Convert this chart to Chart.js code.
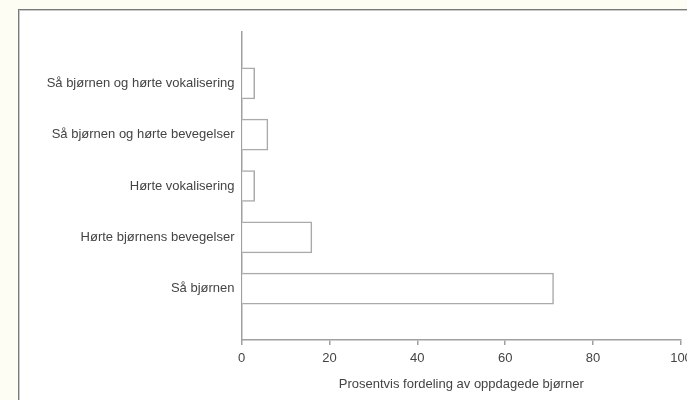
<!DOCTYPE html>
<html>
<head>
<meta charset="utf-8">
<script src="https://cdn.jsdelivr.net/npm/chart.js@4.4.1/dist/chart.umd.min.js"></script>
<style>
  html, body { margin: 0; padding: 0; width: 687px; height: 400px; overflow: hidden; background: #fefdf3; }
  #box { position: absolute; left: 18px; top: 9px; width: 720px; height: 420px; background: #ffffff; border-left: 1px solid #7a7a7a; border-top: 1px solid #7a7a7a; box-shadow: inset 1px 1px 0 #c8c8c8; }
  #wrap { position: absolute; left: 0; top: 0; width: 760px; height: 400px; }
</style>
</head>
<body>
<div id="box"></div>
<div id="wrap"><canvas id="c" width="760" height="400"></canvas></div>
<script>
const categories = ['', 'Så bjørnen og hørte vokalisering', 'Så bjørnen og hørte bevegelser', 'Hørte vokalisering', 'Hørte bjørnens bevegelser', 'Så bjørnen', ''];
const values = [null, 3, 6, 3, 16, 71, null];
const xTicks = [0, 20, 40, 60, 80, 100];
const xTitle = 'Prosentvis fordeling av oppdagede bjørner';

const textColor = '#444444';
const axisColor = '#a0a0a0';
const fontFamily = '"Liberation Sans", Arial, Helvetica, sans-serif';

new Chart(document.getElementById('c'), {
  type: 'bar',
  data: {
    labels: categories,
    datasets: [{
      data: values,
      backgroundColor: '#ffffff',
      borderColor: '#aaaaaa',
      borderWidth: 1.5,
      barThickness: 31
    }]
  },
  options: {
    indexAxis: 'y',
    responsive: false,
    animation: false,
    events: [],
    layout: { padding: { top: 32, right: 79, bottom: 0, left: 0 } },
    plugins: { legend: { display: false }, tooltip: { enabled: false } },
    scales: {
      y: {
        type: 'category',
        offset: false,
        grid: { display: false, drawTicks: false },
        border: { display: true, color: axisColor, width: 1.5 },
        ticks: { color: textColor, font: { family: fontFamily, size: 13 }, padding: 7, autoSkip: false },
        afterFit: (s) => { s.width = 241.5; }
      },
      x: {
        type: 'linear',
        min: 0, max: 100,
        afterBuildTicks: (s) => { s.ticks = xTicks.map(v => ({ value: v })); },
        grid: { display: true, drawOnChartArea: false, drawTicks: true, tickLength: 5, color: axisColor, lineWidth: 1.5 },
        border: { display: true, color: axisColor, width: 1.5 },
        ticks: { color: textColor, font: { family: fontFamily, size: 13 }, padding: 6, maxRotation: 0 },
        title: { display: true, text: xTitle, color: textColor, font: { family: fontFamily, size: 13 }, padding: { top: 8, bottom: 8 } },
        afterFit: (s) => { s.height = 60; }
      }
    }
  }
});
</script>
</body>
</html>
